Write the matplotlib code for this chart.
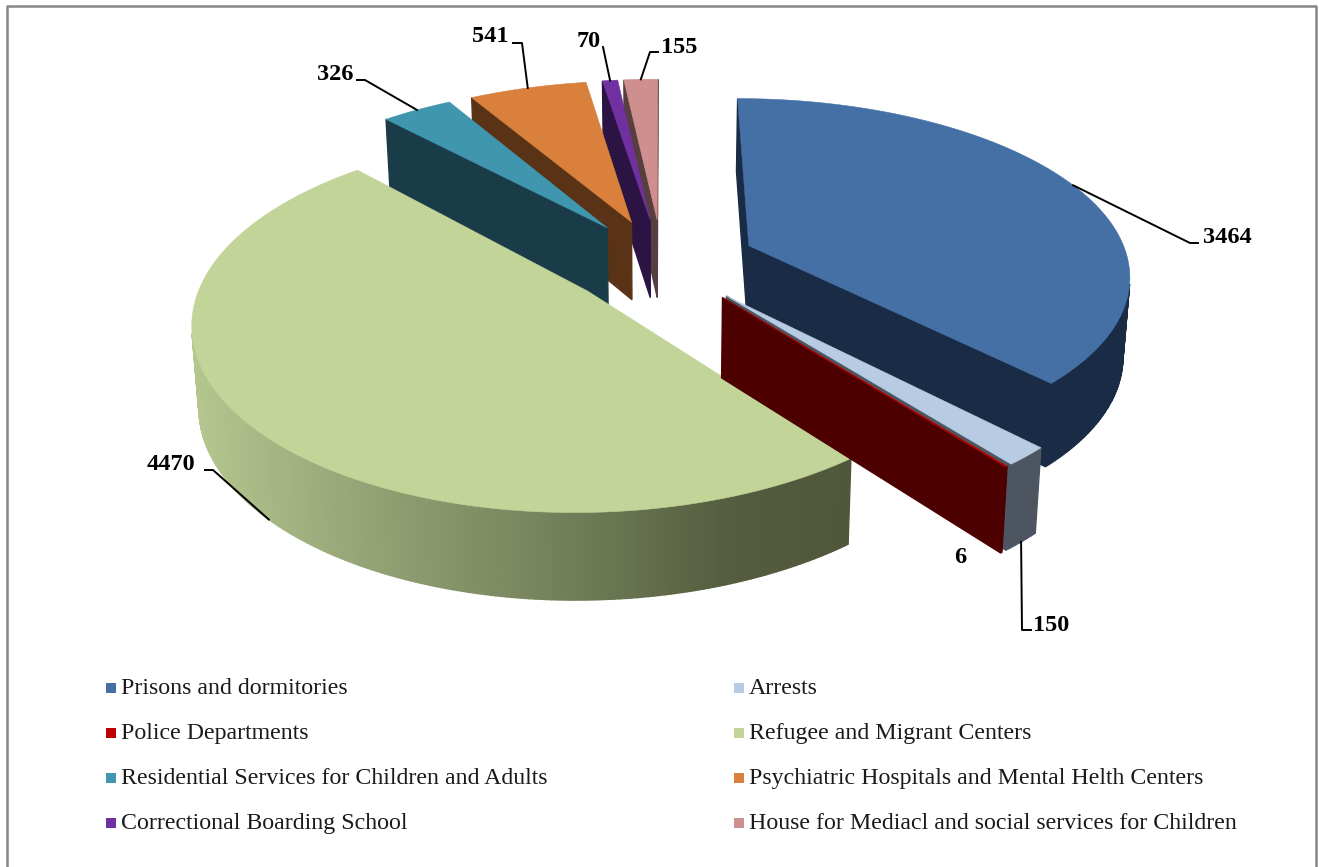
import numpy as np
import matplotlib
matplotlib.use('Agg')
import matplotlib.pyplot as plt

categories = ['Prisons and dormitories', 'Arrests', 'Police Departments',
              'Refugee and Migrant Centers', 'Residential Services for Children and Adults',
              'Psychiatric Hospitals and Mental Helth Centers', 'Correctional Boarding School',
              'House for Mediacl and social services for Children']
values = [3464, 150, 6, 4470, 326, 541, 70, 155]
top_colors = ['#4470a6', '#b7cce2', '#c00000', '#c2d498', '#3f96ae', '#d9803c', '#7030a0', '#cf8f8f']
side_colors = ['#1a2b45', '#4c5560', '#4d0000', '#4f5539', '#1a3c48', '#5a3317', '#2b1443', '#583f3f']
legend_colors = ['#4470a6', '#b7cce2', '#c00000', '#c2d498', '#3f96ae', '#d9803c', '#7030a0', '#cf8f8f']

# label text position, elbow of the leader line (None = no leader), start on lower rim or not
label_pos = [(1203, 235), (1033, 623), (954, 555), (147, 462), (317, 72), (472, 34), (577, 39), (661, 45)]
elbows = [[(1190, 243), (1198, 243)], [(1022, 630), (1031, 630)], None, [(213, 470), (205, 470)],
          [(365, 80), (357, 80)], [(522, 43), (513, 43)], [(603, 47)], [(650, 52), (658, 52)]]
low_start = [False, True, False, True, False, False, False, False]
leader_frac = [0.5, 0.5, 0.5, 0.483, 0.5, 0.5, 0.5, 0.5]

# camera of the 3d pie
CX, CY = 662, 262
A, B = 380, 175.5
KX, KY = 0.15, 0.16
E = 0.25
H = 79


def project(X, Y, low=False):
    wx = 1 + KX * Y
    wy = 1 + KY * Y
    x = CX + A * X / wx
    y = CY - B * Y / wy
    if low:
        x = CX + (x - CX) * 0.985
        y = y + H / np.sqrt(wy)
    return x, y


def area(quad):
    xs = np.array([p[0] for p in quad])
    ys = np.array([p[1] for p in quad])
    return 0.5 * np.sum(xs * np.roll(ys, -1) - np.roll(xs, -1) * ys)


def wall_color(i, x):
    # only the big slice has the left to right gradient
    if i != 3:
        return side_colors[i]
    stops = np.array([190, 400, 600, 720, 860])
    reds = np.array([0xb5, 0x8e, 0x6c, 0x56, 0x4f]) / 255
    greens = np.array([0xc6, 0x9c, 0x78, 0x5e, 0x55]) / 255
    blues = np.array([0x8f, 0x70, 0x54, 0x3f, 0x39]) / 255
    return (np.interp(x, stops, reds), np.interp(x, stops, greens), np.interp(x, stops, blues))


def draw_quad(ax, p1, p2, p3, p4, color):
    quad = [p1, p2, p3, p4]
    if area(quad) < 0:
        ax.fill([p[0] for p in quad], [p[1] for p in quad], color=color, lw=1.0)


fig = plt.figure(figsize=(13.19, 8.67), dpi=100)
ax = fig.add_axes([0, 0, 1, 1])
ax.set_xlim(0, 1319)
ax.set_ylim(867, 0)
ax.axis('off')

# frame has no bottom line in the picture
ax.plot([7, 7, 1316, 1316], [867, 5.5, 5.5, 867], color='#868686', lw=1.8)

total = sum(values)
edges = np.concatenate([[0], np.cumsum(values)]) / total * 2 * np.pi

# back slices first
for i in [7, 6, 5, 4, 0, 3, 1, 2]:
    t0, t1 = edges[i], edges[i + 1]
    mid = (t0 + t1) / 2
    ex, ey = E * np.sin(mid), E * np.cos(mid)
    n = max(3, int((t1 - t0) * 80))
    th = np.linspace(t0, t1, n)
    rim_x = ex + np.sin(th)
    rim_y = ey + np.cos(th)
    top = [project(a, b) for a, b in zip(rim_x, rim_y)]
    low = [project(a, b, True) for a, b in zip(rim_x, rim_y)]
    apex = project(ex, ey)
    apex_low = project(ex, ey, True)

    draw_quad(ax, apex, top[0], low[0], apex_low, side_colors[i])
    draw_quad(ax, top[-1], apex, apex_low, low[-1], side_colors[i])
    for j in range(n - 1):
        col = wall_color(i, (top[j][0] + top[j + 1][0]) / 2)
        draw_quad(ax, top[j], top[j + 1], low[j + 1], low[j], col)

    poly = [apex] + top
    ax.fill([p[0] for p in poly], [p[1] for p in poly], color=top_colors[i], lw=0.4)

# leader lines and value labels
for i in range(len(values)):
    mid = (edges[i] + edges[i + 1]) / 2
    ex, ey = E * np.sin(mid), E * np.cos(mid)
    ang = edges[i] + leader_frac[i] * (edges[i + 1] - edges[i])
    start = project(ex + np.sin(ang), ey + np.cos(ang), low_start[i])
    if elbows[i] is not None:
        pts = [start] + elbows[i]
        ax.plot([p[0] for p in pts], [p[1] for p in pts], color='black', lw=1.4, zorder=20)
    ax.text(label_pos[i][0], label_pos[i][1] + 2.5, str(values[i]), family='Liberation Serif',
            fontsize=17.5, fontweight='bold', ha='left', va='center', color='black', zorder=21)

# legend, two columns
col_x = [105, 733]
row_y = [688, 733, 778, 823]
for i, name in enumerate(categories):
    x = col_x[i % 2]
    y = row_y[i // 2]
    ax.scatter([x + 5.5], [y], marker='s', s=55, color=legend_colors[i], linewidths=0, zorder=20)
    ax.text(x + 16, y + 0.5, name, family='Liberation Serif', fontsize=17.2, ha='left', va='center',
            color='#1a1a1a')

fig.savefig('out.png', dpi=100)
